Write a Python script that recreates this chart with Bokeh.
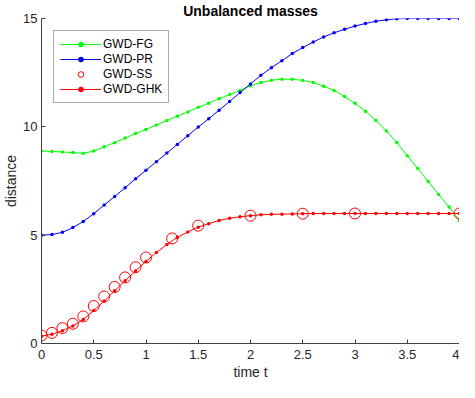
from bokeh.plotting import figure
from bokeh.models import Legend, LegendItem, FixedTicker, Range1d
from bokeh.embed import file_html
from bokeh.resources import INLINE

# ---- data ----
t = [0.0, 0.1, 0.2, 0.3, 0.4, 0.5, 0.6, 0.7, 0.8, 0.9,
     1.0, 1.1, 1.2, 1.3, 1.4, 1.5, 1.6, 1.7, 1.8, 1.9,
     2.0, 2.1, 2.2, 2.3, 2.4, 2.5, 2.6, 2.7, 2.8, 2.9,
     3.0, 3.1, 3.2, 3.3, 3.4, 3.5, 3.6, 3.7, 3.8, 3.9, 4.0]

gwd_fg = [8.88, 8.86, 8.84, 8.81, 8.78, 8.88, 9.08, 9.27, 9.48, 9.69,
          9.88, 10.09, 10.29, 10.49, 10.69, 10.90, 11.09, 11.30, 11.49, 11.68,
          11.90, 12.05, 12.15, 12.20, 12.20, 12.14, 12.05, 11.87, 11.68, 11.40,
          11.09, 10.72, 10.29, 9.81, 9.28, 8.67, 8.08, 7.48, 6.88, 6.30, 5.68]

gwd_pr = [5.00, 5.03, 5.13, 5.35, 5.63, 5.99, 6.39, 6.78, 7.19, 7.60,
          8.00, 8.39, 8.79, 9.19, 9.59, 9.99, 10.37, 10.77, 11.17, 11.58,
          11.98, 12.38, 12.73, 13.05, 13.38, 13.66, 13.91, 14.15, 14.34, 14.50,
          14.65, 14.77, 14.87, 14.94, 14.99, 15.00, 15.00, 15.00, 15.00, 15.00, 15.00]

gwd_ghk = [0.34, 0.43, 0.59, 0.81, 1.11, 1.52, 1.96, 2.43, 2.90, 3.35,
           3.79, 4.20, 4.57, 4.90, 5.15, 5.37, 5.53, 5.68, 5.78, 5.85,
           5.90, 5.94, 5.96, 5.97, 5.98, 5.99, 6.00, 6.00, 6.00, 6.00,
           6.00, 6.00, 6.00, 6.00, 6.00, 6.00, 6.00, 6.00, 6.00, 6.00, 6.00]

t_ss = [0.0, 0.1, 0.2, 0.3, 0.4, 0.5, 0.6, 0.7, 0.8, 0.9, 1.0, 1.25, 1.5, 2.0, 2.5, 3.0, 4.0]
gwd_ss = [0.37, 0.49, 0.71, 0.91, 1.25, 1.73, 2.17, 2.61, 3.05, 3.52, 3.97, 4.85, 5.44, 5.90, 5.99, 6.00, 6.00]

x_ticks = [0, 0.5, 1, 1.5, 2, 2.5, 3, 3.5, 4]
x_tick_labels = ["0", "0.5", "1", "1.5", "2", "2.5", "3", "3.5", "4"]
y_ticks = [0, 5, 10, 15]
y_tick_labels = ["0", "5", "10", "15"]

FONT = "Liberation Sans"
TXT = "#262626"

p = figure(width=459, height=382, output_backend="svg", toolbar_location=None,
           x_range=Range1d(0, 4), y_range=Range1d(0, 15),
           min_border_left=0, min_border_right=0, min_border_top=0, min_border_bottom=0)
p.outline_line_color = None
p.xgrid.visible = False
p.ygrid.visible = False

p.title.text = "Unbalanced masses"
p.title.align = "center"
p.title.text_font = FONT
p.title.text_font_size = "14px"
p.title.text_font_style = "bold"
p.title.text_color = "#000000"
p.title.standoff = 0

for ax, ticks, labels in ((p.xaxis, x_ticks, x_tick_labels), (p.yaxis, y_ticks, y_tick_labels)):
    ax.ticker = FixedTicker(ticks=ticks)
    ax.major_label_overrides = {tk: lb for tk, lb in zip(ticks, labels)}
    ax.major_tick_in = 4
    ax.major_tick_out = 0
    ax.minor_tick_line_color = None
    ax.axis_line_color = "#404040"
    ax.major_tick_line_color = "#404040"
    ax.major_label_text_font = FONT
    ax.major_label_text_font_size = "13px"
    ax.major_label_text_color = TXT
    ax.major_label_text_line_height = 1.0
    ax.axis_label_text_font = FONT
    ax.axis_label_text_font_size = "14px"
    ax.axis_label_text_font_style = "normal"
    ax.axis_label_text_color = TXT
    ax.axis_label_text_line_height = 1.0

p.xaxis.axis_label = "time t"
p.yaxis.axis_label = "distance"
p.xaxis.major_label_standoff = 6
p.xaxis.axis_label_standoff = 2
p.yaxis.major_label_standoff = 4
p.yaxis.axis_label_standoff = 1

GREEN = "#00ff00"
l_fg = p.line(t, gwd_fg, color=GREEN, line_width=1)
s_fg = p.scatter(t, gwd_fg, fill_color=GREEN, line_color=None, size=3.5)
l_pr = p.line(t, gwd_pr, color="#0000ff", line_width=1)
s_pr = p.scatter(t, gwd_pr, fill_color="#0000ff", line_color=None, size=3.5)
s_ss = p.scatter(t_ss, gwd_ss, marker="circle", size=11, fill_color=None,
                 line_color="#ff0000", line_width=1)
l_ghk = p.line(t, gwd_ghk, color="#ff0000", line_width=1)
s_ghk = p.scatter(t, gwd_ghk, fill_color="#ff0000", line_color=None, size=3.5)

legend = Legend(items=[
    LegendItem(label="GWD-FG", renderers=[l_fg, s_fg]),
    LegendItem(label="GWD-PR", renderers=[l_pr, s_pr]),
    LegendItem(label="GWD-SS", renderers=[s_ss]),
    LegendItem(label="GWD-GHK", renderers=[l_ghk, s_ghk]),
], location="top_left")
legend.label_text_font = FONT
legend.label_text_font_size = "12px"
legend.label_text_color = "#000000"
legend.glyph_width = 41
legend.glyph_height = 14
legend.label_height = 14
legend.spacing = 1
legend.padding = 6
legend.margin = 12
legend.label_standoff = 2
legend.border_line_color = "#555555"
legend.border_line_width = 1
legend.background_fill_alpha = 1
p.add_layout(legend, "center")

open("out.html", "w").write(file_html(p, INLINE))
